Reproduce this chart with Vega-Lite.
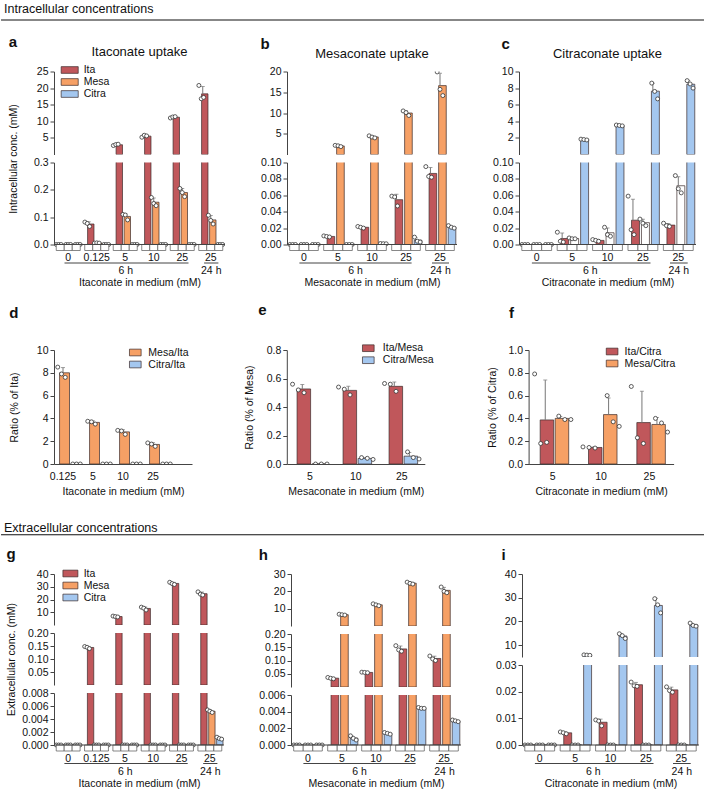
{
"$schema": "https://vega.github.io/schema/vega-lite/v6.json",
"padding": {"left": 0, "top": 2, "right": 0, "bottom": 0},
"background": "white",
"config": {
  "font": "Liberation Sans",
  "view": {"stroke": null},
  "axis": {"labelFontSize": 10.5, "titleFontSize": 10.5, "titleFontWeight": "normal", "labelColor": "#111", "titleColor": "#111", "domainColor": "#444", "tickColor": "#444", "tickSize": 4, "grid": false, "labelPadding": 2, "labelFont": "Liberation Sans", "titleFont": "Liberation Sans"},
  "title": {"font": "Liberation Sans", "color": "#111"},
  "legend": {"labelFont": "Liberation Sans", "labelFontSize": 10.5, "labelColor": "#111"},
  "bar": {"stroke": "#3b2b2b", "strokeWidth": 0.7},
  "rule": {"color": "#777", "strokeWidth": 1},
  "tick": {"color": "#777", "thickness": 1},
  "point": {"shape": "circle", "filled": true, "fill": "white", "stroke": "#333", "strokeWidth": 0.8, "size": 16, "opacity": 1}
},
"datasets": {
  "A": [
    {"g":"0","s":"Ita","r":[0,0,0]},{"g":"0","s":"Mesa","r":[0,0,0]},{"g":"0","s":"Citra","r":[0,0,0]},
    {"g":"0.125","s":"Ita","r":[0.082,0.077,0.066]},{"g":"0.125","s":"Mesa","r":[0.005,0.006,0.005]},{"g":"0.125","s":"Citra","r":[0,0,0]},
    {"g":"5","s":"Ita","r":[2.7,3.0,3.1]},{"g":"5","s":"Mesa","r":[0.11,0.108,0.09]},{"g":"5","s":"Citra","r":[0,0,0]},
    {"g":"10","s":"Ita","r":[5.2,5.8,5.6]},{"g":"10","s":"Mesa","r":[0.172,0.15,0.142]},{"g":"10","s":"Citra","r":[0,0,0]},
    {"g":"25","s":"Ita","r":[11.0,11.3,11.4]},{"g":"25","s":"Mesa","r":[0.205,0.19,0.175]},{"g":"25","s":"Citra","r":[0,0,0]},
    {"g":"25*","s":"Ita","r":[20.8,16.8,17.2]},{"g":"25*","s":"Mesa","r":[0.107,0.088,0.075]},{"g":"25*","s":"Citra","r":[0,0,0]}
  ],
  "B": [
    {"g":"0","s":"Ita","r":[0,0,0]},{"g":"0","s":"Mesa","r":[0,0,0]},{"g":"0","s":"Citra","r":[0,0,0]},
    {"g":"5","s":"Ita","r":[0.0105,0.0098,0.0092]},{"g":"5","s":"Mesa","r":[2.2,2.1,1.9]},{"g":"5","s":"Citra","r":[0,0,0]},
    {"g":"10","s":"Ita","r":[0.022,0.021,0.02]},{"g":"10","s":"Mesa","r":[4.5,4.2,4.0]},{"g":"10","s":"Citra","r":[0.0012,0.001,0.0009]},
    {"g":"25","s":"Ita","r":[0.059,0.058,0.047]},{"g":"25","s":"Mesa","r":[10.5,10.1,9.4]},{"g":"25","s":"Citra","r":[0.009,0.004,0.003]},
    {"g":"25*","s":"Ita","r":[0.095,0.083,0.082]},{"g":"25*","s":"Mesa","r":[19.9,15.7,14.2]},{"g":"25*","s":"Citra","r":[0.023,0.021,0.02]}
  ],
  "C": [
    {"g":"0","s":"Ita","r":[0,0,0]},{"g":"0","s":"Mesa","r":[0,0,0]},{"g":"0","s":"Citra","r":[0,0,0]},
    {"g":"5","s":"Ita","r":[0.015,0.004,0.003]},{"g":"5","s":"Mesa","r":[0.008,0.007,0.007]},{"g":"5","s":"Citra","r":[1.85,1.8,1.75]},
    {"g":"10","s":"Ita","r":[0.006,0.005,0.004]},{"g":"10","s":"Mesa","r":[0.021,0.012,0.01]},{"g":"10","s":"Citra","r":[3.55,3.5,3.45]},
    {"g":"25","s":"Ita","r":[0.059,0.018,0.012]},{"g":"25","s":"Mesa","r":[0.031,0.026,0.023]},{"g":"25","s":"Citra","r":[8.6,7.6,6.7]},
    {"g":"25*","s":"Ita","r":[0.026,0.023,0.022]},{"g":"25*","s":"Mesa","r":[0.084,0.068,0.063]},{"g":"25*","s":"Citra","r":[8.9,8.5,8.0]}
  ],
  "D": [
    {"g":"0.125","s":"Mesa/Ita","r":[8.5,7.9,7.6]},{"g":"0.125","s":"Citra/Ita","r":[0,0,0]},
    {"g":"5","s":"Mesa/Ita","r":[3.75,3.7,3.5]},{"g":"5","s":"Citra/Ita","r":[0,0,0]},
    {"g":"10","s":"Mesa/Ita","r":[2.95,2.9,2.6]},{"g":"10","s":"Citra/Ita","r":[0,0,0]},
    {"g":"25","s":"Mesa/Ita","r":[1.85,1.75,1.55]},{"g":"25","s":"Citra/Ita","r":[0,0,0]}
  ],
  "E": [
    {"g":"5","s":"Ita/Mesa","r":[0.56,0.52,0.5]},{"g":"5","s":"Citra/Mesa","r":[0,0,0]},
    {"g":"10","s":"Ita/Mesa","r":[0.54,0.525,0.485]},{"g":"10","s":"Citra/Mesa","r":[0.045,0.04,0.032]},
    {"g":"25","s":"Ita/Mesa","r":[0.565,0.56,0.51]},{"g":"25","s":"Citra/Mesa","r":[0.085,0.045,0.035]}
  ],
  "F": [
    {"g":"5","s":"Ita/Citra","r":[0.79,0.18,0.19]},{"g":"5","s":"Mesa/Citra","r":[0.42,0.39,0.39]},
    {"g":"10","s":"Ita/Citra","r":[0.15,0.145,0.14]},{"g":"10","s":"Mesa/Citra","r":[0.6,0.37,0.33]},
    {"g":"25","s":"Ita/Citra","r":[0.68,0.23,0.18]},{"g":"25","s":"Mesa/Citra","r":[0.4,0.36,0.28]}
  ],
  "G": [
    {"g":"0","s":"Ita","r":[0,0,0]},{"g":"0","s":"Mesa","r":[0,0,0]},{"g":"0","s":"Citra","r":[0,0,0]},
    {"g":"0.125","s":"Ita","r":[0.148,0.145,0.14]},{"g":"0.125","s":"Mesa","r":[0,0,0]},{"g":"0.125","s":"Citra","r":[0,0,0]},
    {"g":"5","s":"Ita","r":[7.0,6.6,6.3]},{"g":"5","s":"Mesa","r":[0,0,0]},{"g":"5","s":"Citra","r":[0,0,0]},
    {"g":"10","s":"Ita","r":[14.0,13.2,11.8]},{"g":"10","s":"Mesa","r":[0,0,0]},{"g":"10","s":"Citra","r":[0,0,0]},
    {"g":"25","s":"Ita","r":[33.5,32.5,31.8]},{"g":"25","s":"Mesa","r":[0,0,0]},{"g":"25","s":"Citra","r":[0,0,0]},
    {"g":"25*","s":"Ita","r":[26.0,24.2,23.5]},{"g":"25*","s":"Mesa","r":[0.0054,0.0052,0.005]},{"g":"25*","s":"Citra","r":[0.0012,0.001,0.0009]}
  ],
  "H": [
    {"g":"0","s":"Ita","r":[0,0,0]},{"g":"0","s":"Mesa","r":[0,0,0]},{"g":"0","s":"Citra","r":[0,0,0]},
    {"g":"5","s":"Ita","r":[0.036,0.033,0.031]},{"g":"5","s":"Mesa","r":[6.8,6.5,6.3]},{"g":"5","s":"Citra","r":[0.0011,0.0008,0.0006]},
    {"g":"10","s":"Ita","r":[0.056,0.055,0.054]},{"g":"10","s":"Mesa","r":[12.8,12.2,11.7]},{"g":"10","s":"Citra","r":[0.0015,0.0014,0.0013]},
    {"g":"25","s":"Ita","r":[0.156,0.14,0.135]},{"g":"25","s":"Mesa","r":[25.3,24.6,24.2]},{"g":"25","s":"Citra","r":[0.0045,0.0044,0.0044]},
    {"g":"25*","s":"Ita","r":[0.117,0.106,0.1]},{"g":"25*","s":"Mesa","r":[22.5,20.0,19.2]},{"g":"25*","s":"Citra","r":[0.003,0.0029,0.0028]}
  ],
  "I": [
    {"g":"0","s":"Ita","r":[0,0,0]},{"g":"0","s":"Mesa","r":[0,0,0]},{"g":"0","s":"Citra","r":[0,0,0]},
    {"g":"5","s":"Ita","r":[0.0049,0.0046,0.0042]},{"g":"5","s":"Mesa","r":[0,0,0]},{"g":"5","s":"Citra","r":[5.9,5.8,5.7]},
    {"g":"10","s":"Ita","r":[0.0094,0.009,0.0072]},{"g":"10","s":"Mesa","r":[0,0,0]},{"g":"10","s":"Citra","r":[14.8,14.0,12.8]},
    {"g":"25","s":"Ita","r":[0.0236,0.0222,0.022]},{"g":"25","s":"Mesa","r":[0,0,0]},{"g":"25","s":"Citra","r":[29.6,27.0,23.6]},
    {"g":"25*","s":"Ita","r":[0.0218,0.0204,0.0198]},{"g":"25*","s":"Mesa","r":[0,0,0]},{"g":"25*","s":"Citra","r":[19.3,18.3,18.0]}
  ]
},
"spacing": 24.75,
"align": "none",
"resolve": {"scale": {"color": "independent", "x": "independent", "y": "independent", "xOffset": "independent"}, "legend": {"color": "independent"}, "axis": {"x": "independent", "y": "independent"}},
"vconcat": [
{
 "spacing": 13.5,
 "align": "none",
 "resolve": {"scale": {"color": "independent", "x": "independent", "y": "independent", "xOffset": "independent"}, "legend": {"color": "independent"}, "axis": {"x": "independent", "y": "independent"}},
 "vconcat": [
  {"data": {"values": [{"t": "Intracellular concentrations"}]},
   "title": {"text": "Intracellular concentrations", "anchor": "start", "frame": "group", "fontSize": 12.5, "fontWeight": "normal", "offset": 4, "dx": -50},
   "width": 650, "height": 1,
   "mark": {"type": "rule", "color": "#111", "strokeWidth": 1.2},
   "encoding": {"x": {"datum": -0.0815, "type": "quantitative", "scale": {"domain": [0, 1], "nice": false, "zero": false}, "axis": null}, "x2": {"datum": 1},
     "y": {"datum": 0, "type": "quantitative", "scale": {"domain": [0, 1]}, "axis": null}}},
  {
   "spacing": 14.5,
   "align": "none",
   "resolve": {"scale": {"color": "independent", "x": "independent", "y": "independent", "xOffset": "independent"}, "legend": {"color": "independent"}, "axis": {"x": "independent", "y": "independent"}},
   "vconcat": [
    {
     "spacing": 34,
     "resolve": {"scale": {"color": "independent", "x": "independent", "y": "independent", "xOffset": "independent"}, "legend": {"color": "independent"}, "axis": {"x": "independent", "y": "independent"}},
     "hconcat": [
      {
       "title": {"text": "a", "anchor": "start", "frame": "bounds", "fontSize": 15, "fontWeight": "bold", "offset": -4},
       "spacing": 8, "bounds": "flush",
       "resolve": {"scale": {"color": "independent", "x": "independent", "y": "independent", "xOffset": "independent"}, "legend": {"color": "independent"}, "axis": {"x": "independent", "y": "independent"}},
       "vconcat": [
        {"width": 171, "height": 83, "data": {"name": "A"},
         "title": {"text": "Itaconate uptake", "fontSize": 13, "fontWeight": "normal", "offset": 5.5},
         "encoding": {"x": {"field": "g", "type": "nominal", "scale": {"domain": ["0","0.125","5","10","25","25*"], "paddingInner": 0, "paddingOuter": 0}, "axis": null}},
         "resolve": {"scale": {"xOffset": "independent"}},
         "layer": [
          {"transform": [{"flatten":["r"],"as":["v"]},{"aggregate":[{"op":"mean","field":"v","as":"m"}],"groupby":["g","s"]},{"filter":"datum.m > 0.3"}],
           "mark": {"type": "bar", "clip": true, "width": {"band": 0.8}},
           "encoding": {"xOffset": {"field":"s","type":"nominal","scale":{"domain":["Ita","Mesa","Citra"],"paddingInner":0,"paddingOuter":0.28}},
            "y": {"field": "m", "type": "quantitative", "scale": {"domain": [0, 25], "nice": false, "zero": false}, "axis": {"values": [5,10,15,20,25], "format": "d", "title": null}},
            "color": {"field": "s", "type": "nominal", "scale": {"domain": ["Ita","Mesa","Citra"], "range": ["#c0575b","#f6a065","#a4c7ef"]},
              "legend": {"title": null, "orient": "none", "legendX": 9.7, "legendY": -7.5, "symbolType": "M-1.55,-0.61H1.55V0.61H-1.55Z", "symbolSize": 121, "symbolStrokeColor": "#3b2b2b", "symbolStrokeWidth": 0.7, "labelOffset": 8, "rowPadding": 0, "padding": 0}}}},
          {"transform": [{"flatten":["r"],"as":["v"]},{"aggregate":[{"op":"mean","field":"v","as":"m"},{"op":"stdev","field":"v","as":"sd"}],"groupby":["g","s"]},{"filter":"datum.m > 0.3"},{"calculate":"datum.m + (isValid(datum.sd) ? datum.sd : 0)","as":"hi"}],
           "mark": {"type": "rule", "clip": true},
           "encoding": {"xOffset": {"field":"s","type":"nominal","scale":{"domain":["Ita","Mesa","Citra"],"paddingInner":0,"paddingOuter":0.28}},
            "y": {"field": "m", "type": "quantitative", "scale": {"domain": [0, 25], "nice": false, "zero": false}, "axis": {"values": [5,10,15,20,25], "format": "d", "title": null}},
            "y2": {"field": "hi"}}},
          {"transform": [{"flatten":["r"],"as":["v"]},{"aggregate":[{"op":"mean","field":"v","as":"m"},{"op":"stdev","field":"v","as":"sd"}],"groupby":["g","s"]},{"filter":"datum.m > 0.3"},{"calculate":"datum.m + (isValid(datum.sd) ? datum.sd : 0)","as":"hi"}],
           "mark": {"type": "tick", "clip": true, "size": 4},
           "encoding": {"xOffset": {"field":"s","type":"nominal","scale":{"domain":["Ita","Mesa","Citra"],"paddingInner":0,"paddingOuter":0.28}},
            "y": {"field": "hi", "type": "quantitative", "scale": {"domain": [0, 25], "nice": false, "zero": false}, "axis": {"values": [5,10,15,20,25], "format": "d", "title": null}}}},
          {"transform": [{"flatten":["r"],"as":["v"]},{"joinaggregate":[{"op":"mean","field":"v","as":"m"}],"groupby":["g","s"]},{"filter":"datum.m > 0.3"},{"window":[{"op":"row_number","as":"ri"}],"groupby":["g","s"]},{"calculate":"datum.s + datum.ri","as":"k"}],
           "mark": {"type": "point", "clip": true},
           "encoding": {"xOffset": {"field":"k","type":"nominal","scale":{"domain":["Ita1","Ita2","Ita3","gap1","Mesa1","Mesa2","Mesa3","gap2","Citra1","Citra2","Citra3"],"paddingInner":0,"paddingOuter":1.62}},
            "y": {"field": "v", "type": "quantitative", "scale": {"domain": [0, 25], "nice": false, "zero": false}, "axis": {"values": [5,10,15,20,25], "format": "d", "title": null}}}}
         ]},
        {"width": 171, "height": 88, "data": {"name": "A"},
         "resolve": {"scale": {"x": "independent"}, "axis": {"x": "independent"}},
         "layer": [
          {"encoding": {"x": {"field": "g", "type": "nominal", "scale": {"domain": ["0","0.125","5","10","25","25*"], "paddingInner": 0, "paddingOuter": 0}, "axis": {"orient": "bottom", "title": null, "ticks": false, "domain": false, "labelPadding": 2, "labelAngle": 0, "labelExpr": "replace(datum.label,'*','')"}}},
           "resolve": {"scale": {"xOffset": "independent"}},
           "layer": [
            {"transform": [{"flatten":["r"],"as":["v"]},{"aggregate":[{"op":"mean","field":"v","as":"m"}],"groupby":["g","s"]}],
             "mark": {"type": "bar", "clip": true, "width": {"band": 0.8}},
             "encoding": {"xOffset": {"field":"s","type":"nominal","scale":{"domain":["Ita","Mesa","Citra"],"paddingInner":0,"paddingOuter":0.28}},
              "y": {"field": "m", "type": "quantitative", "scale": {"domain": [-0.022, 0.3], "nice": false, "zero": false}, "axis": {"values": [0,0.1,0.2,0.3], "format": ".1f", "title": "Intracellular conc. (mM)", "titleY": -4, "titlePadding": 14.7, "domainDash": [0,6,1000]}},
              "color": {"field": "s", "type": "nominal", "scale": {"domain": ["Ita","Mesa","Citra"], "range": ["#c0575b","#f6a065","#a4c7ef"]}, "legend": null}}},
            {"transform": [{"flatten":["r"],"as":["v"]},{"aggregate":[{"op":"mean","field":"v","as":"m"},{"op":"stdev","field":"v","as":"sd"}],"groupby":["g","s"]},{"calculate":"datum.m + (isValid(datum.sd) ? datum.sd : 0)","as":"hi"}],
             "mark": {"type": "rule", "clip": true},
             "encoding": {"xOffset": {"field":"s","type":"nominal","scale":{"domain":["Ita","Mesa","Citra"],"paddingInner":0,"paddingOuter":0.28}},
              "y": {"field": "m", "type": "quantitative", "scale": {"domain": [-0.022, 0.3], "nice": false, "zero": false}, "axis": {"values": [0,0.1,0.2,0.3], "format": ".1f", "title": "Intracellular conc. (mM)", "titleY": -4, "titlePadding": 14.7, "domainDash": [0,6,1000]}},
              "y2": {"field": "hi"}}},
            {"transform": [{"flatten":["r"],"as":["v"]},{"aggregate":[{"op":"mean","field":"v","as":"m"},{"op":"stdev","field":"v","as":"sd"}],"groupby":["g","s"]},{"calculate":"datum.m + (isValid(datum.sd) ? datum.sd : 0)","as":"hi"}],
             "mark": {"type": "tick", "clip": true, "size": 4},
             "encoding": {"xOffset": {"field":"s","type":"nominal","scale":{"domain":["Ita","Mesa","Citra"],"paddingInner":0,"paddingOuter":0.28}},
              "y": {"field": "hi", "type": "quantitative", "scale": {"domain": [-0.022, 0.3], "nice": false, "zero": false}, "axis": {"values": [0,0.1,0.2,0.3], "format": ".1f", "title": "Intracellular conc. (mM)", "titleY": -4, "titlePadding": 14.7, "domainDash": [0,6,1000]}}}},
            {"transform": [{"flatten":["r"],"as":["v"]},{"window":[{"op":"row_number","as":"ri"}],"groupby":["g","s"]},{"calculate":"datum.s + datum.ri","as":"k"}],
             "mark": {"type": "point", "clip": true},
             "encoding": {"xOffset": {"field":"k","type":"nominal","scale":{"domain":["Ita1","Ita2","Ita3","gap1","Mesa1","Mesa2","Mesa3","gap2","Citra1","Citra2","Citra3"],"paddingInner":0,"paddingOuter":1.62}},
              "y": {"field": "v", "type": "quantitative", "scale": {"domain": [-0.022, 0.3], "nice": false, "zero": false}, "axis": {"values": [0,0.1,0.2,0.3], "format": ".1f", "title": "Intracellular conc. (mM)", "titleY": -4, "titlePadding": 14.7, "domainDash": [0,6,1000]}}}},
            {"mark": {"type": "rect", "fill": "white", "stroke": "#555", "strokeWidth": 0.7},
             "encoding": {"xOffset": {"field":"s","type":"nominal","scale":{"domain":["Ita","Mesa","Citra"],"paddingInner":0,"paddingOuter":0.28}},
              "y": {"datum": 0, "type": "quantitative", "scale": {"domain": [-0.022, 0.3], "nice": false, "zero": false}, "axis": {"values": [0,0.1,0.2,0.3], "format": ".1f", "title": "Intracellular conc. (mM)", "titleY": -4, "titlePadding": 14.7, "domainDash": [0,6,1000]}},
              "y2": {"datum": -0.022}}}
           ]},
          {"transform": [{"aggregate":[{"op":"count","as":"n"}]}],
           "mark": {"type": "rule", "color": "#444", "strokeWidth": 1},
           "encoding": {"y": {"datum": 0, "type": "quantitative", "scale": {"domain": [-0.022, 0.3], "nice": false, "zero": false}, "axis": {"values": [0,0.1,0.2,0.3], "format": ".1f", "title": "Intracellular conc. (mM)", "titleY": -4, "titlePadding": 14.7, "domainDash": [0,6,1000]}}}},
          {"transform": [{"aggregate":[{"op":"count","as":"n"}]}],
           "mark": {"type": "rule", "opacity": 0},
           "encoding": {"x": {"datum": 0, "type": "quantitative", "scale": {"domain": [0, 6], "nice": false, "zero": false},
             "axis": {"orient": "bottom", "offset": 12, "values": [2.5, 5.5], "labelExpr": "datum.value < 5 ? '6 h' : '24 h'", "ticks": false, "grid": false, "labelPadding": 3, "labelFlush": false, "labelOverlap": false, "domainDash": [0,10,124,15.6,14.3,60], "title": "Itaconate in medium (mM)", "titlePadding": 1.5}}}}
         ]}
       ]
      },
      {
       "title": {"text": "b", "anchor": "start", "frame": "bounds", "fontSize": 15, "fontWeight": "bold", "offset": -4},
       "spacing": 8, "bounds": "flush",
       "resolve": {"scale": {"color": "independent", "x": "independent", "y": "independent", "xOffset": "independent"}, "legend": {"color": "independent"}, "axis": {"x": "independent", "y": "independent"}},
       "vconcat": [
        {"width": 170, "height": 83, "data": {"name": "B"},
         "title": {"text": "Mesaconate uptake", "fontSize": 13, "fontWeight": "normal", "offset": 5.5},
         "encoding": {"x": {"field": "g", "type": "nominal", "scale": {"domain": ["0","5","10","25","25*"], "paddingInner": 0, "paddingOuter": 0}, "axis": null}},
         "resolve": {"scale": {"xOffset": "independent"}},
         "layer": [
          {"transform": [{"flatten":["r"],"as":["v"]},{"aggregate":[{"op":"mean","field":"v","as":"m"}],"groupby":["g","s"]},{"filter":"datum.m > 0.1"}],
           "mark": {"type": "bar", "clip": true, "width": {"band": 0.8}},
           "encoding": {"xOffset": {"field":"s","type":"nominal","scale":{"domain":["Ita","Mesa","Citra"],"paddingInner":0,"paddingOuter":0.28}},
            "y": {"field": "m", "type": "quantitative", "scale": {"domain": [0, 20], "nice": false, "zero": false}, "axis": {"values": [5,10,15,20], "format": "d", "title": null}},
            "color": {"field": "s", "type": "nominal", "scale": {"domain": ["Ita","Mesa","Citra"], "range": ["#c0575b","#f6a065","#a4c7ef"]}, "legend": null}}},
          {"transform": [{"flatten":["r"],"as":["v"]},{"aggregate":[{"op":"mean","field":"v","as":"m"},{"op":"stdev","field":"v","as":"sd"}],"groupby":["g","s"]},{"filter":"datum.m > 0.1"},{"calculate":"datum.m + (isValid(datum.sd) ? datum.sd : 0)","as":"hi"}],
           "mark": {"type": "rule", "clip": true},
           "encoding": {"xOffset": {"field":"s","type":"nominal","scale":{"domain":["Ita","Mesa","Citra"],"paddingInner":0,"paddingOuter":0.28}},
            "y": {"field": "m", "type": "quantitative", "scale": {"domain": [0, 20], "nice": false, "zero": false}, "axis": {"values": [5,10,15,20], "format": "d", "title": null}},
            "y2": {"field": "hi"}}},
          {"transform": [{"flatten":["r"],"as":["v"]},{"aggregate":[{"op":"mean","field":"v","as":"m"},{"op":"stdev","field":"v","as":"sd"}],"groupby":["g","s"]},{"filter":"datum.m > 0.1"},{"calculate":"datum.m + (isValid(datum.sd) ? datum.sd : 0)","as":"hi"}],
           "mark": {"type": "tick", "clip": true, "size": 4},
           "encoding": {"xOffset": {"field":"s","type":"nominal","scale":{"domain":["Ita","Mesa","Citra"],"paddingInner":0,"paddingOuter":0.28}},
            "y": {"field": "hi", "type": "quantitative", "scale": {"domain": [0, 20], "nice": false, "zero": false}, "axis": {"values": [5,10,15,20], "format": "d", "title": null}}}},
          {"transform": [{"flatten":["r"],"as":["v"]},{"joinaggregate":[{"op":"mean","field":"v","as":"m"}],"groupby":["g","s"]},{"filter":"datum.m > 0.1"},{"window":[{"op":"row_number","as":"ri"}],"groupby":["g","s"]},{"calculate":"datum.s + datum.ri","as":"k"}],
           "mark": {"type": "point", "clip": true},
           "encoding": {"xOffset": {"field":"k","type":"nominal","scale":{"domain":["Ita1","Ita2","Ita3","gap1","Mesa1","Mesa2","Mesa3","gap2","Citra1","Citra2","Citra3"],"paddingInner":0,"paddingOuter":1.62}},
            "y": {"field": "v", "type": "quantitative", "scale": {"domain": [0, 20], "nice": false, "zero": false}, "axis": {"values": [5,10,15,20], "format": "d", "title": null}}}}
         ]},
        {"width": 170, "height": 88, "data": {"name": "B"},
         "resolve": {"scale": {"x": "independent"}, "axis": {"x": "independent"}},
         "layer": [
          {"encoding": {"x": {"field": "g", "type": "nominal", "scale": {"domain": ["0","5","10","25","25*"], "paddingInner": 0, "paddingOuter": 0}, "axis": {"orient": "bottom", "title": null, "ticks": false, "domain": false, "labelPadding": 2, "labelAngle": 0, "labelExpr": "replace(datum.label,'*','')"}}},
           "resolve": {"scale": {"xOffset": "independent"}},
           "layer": [
            {"transform": [{"flatten":["r"],"as":["v"]},{"aggregate":[{"op":"mean","field":"v","as":"m"}],"groupby":["g","s"]}],
             "mark": {"type": "bar", "clip": true, "width": {"band": 0.8}},
             "encoding": {"xOffset": {"field":"s","type":"nominal","scale":{"domain":["Ita","Mesa","Citra"],"paddingInner":0,"paddingOuter":0.28}},
              "y": {"field": "m", "type": "quantitative", "scale": {"domain": [-0.0073, 0.1], "nice": false, "zero": false}, "axis": {"values": [0,0.02,0.04,0.06,0.08,0.1], "format": ".2f", "title": null, "domainDash": [0,6,1000]}},
              "color": {"field": "s", "type": "nominal", "scale": {"domain": ["Ita","Mesa","Citra"], "range": ["#c0575b","#f6a065","#a4c7ef"]}, "legend": null}}},
            {"transform": [{"flatten":["r"],"as":["v"]},{"aggregate":[{"op":"mean","field":"v","as":"m"},{"op":"stdev","field":"v","as":"sd"}],"groupby":["g","s"]},{"calculate":"datum.m + (isValid(datum.sd) ? datum.sd : 0)","as":"hi"}],
             "mark": {"type": "rule", "clip": true},
             "encoding": {"xOffset": {"field":"s","type":"nominal","scale":{"domain":["Ita","Mesa","Citra"],"paddingInner":0,"paddingOuter":0.28}},
              "y": {"field": "m", "type": "quantitative", "scale": {"domain": [-0.0073, 0.1], "nice": false, "zero": false}, "axis": {"values": [0,0.02,0.04,0.06,0.08,0.1], "format": ".2f", "title": null, "domainDash": [0,6,1000]}},
              "y2": {"field": "hi"}}},
            {"transform": [{"flatten":["r"],"as":["v"]},{"aggregate":[{"op":"mean","field":"v","as":"m"},{"op":"stdev","field":"v","as":"sd"}],"groupby":["g","s"]},{"calculate":"datum.m + (isValid(datum.sd) ? datum.sd : 0)","as":"hi"}],
             "mark": {"type": "tick", "clip": true, "size": 4},
             "encoding": {"xOffset": {"field":"s","type":"nominal","scale":{"domain":["Ita","Mesa","Citra"],"paddingInner":0,"paddingOuter":0.28}},
              "y": {"field": "hi", "type": "quantitative", "scale": {"domain": [-0.0073, 0.1], "nice": false, "zero": false}, "axis": {"values": [0,0.02,0.04,0.06,0.08,0.1], "format": ".2f", "title": null, "domainDash": [0,6,1000]}}}},
            {"transform": [{"flatten":["r"],"as":["v"]},{"window":[{"op":"row_number","as":"ri"}],"groupby":["g","s"]},{"calculate":"datum.s + datum.ri","as":"k"}],
             "mark": {"type": "point", "clip": true},
             "encoding": {"xOffset": {"field":"k","type":"nominal","scale":{"domain":["Ita1","Ita2","Ita3","gap1","Mesa1","Mesa2","Mesa3","gap2","Citra1","Citra2","Citra3"],"paddingInner":0,"paddingOuter":1.62}},
              "y": {"field": "v", "type": "quantitative", "scale": {"domain": [-0.0073, 0.1], "nice": false, "zero": false}, "axis": {"values": [0,0.02,0.04,0.06,0.08,0.1], "format": ".2f", "title": null, "domainDash": [0,6,1000]}}}},
            {"mark": {"type": "rect", "fill": "white", "stroke": "#555", "strokeWidth": 0.7},
             "encoding": {"xOffset": {"field":"s","type":"nominal","scale":{"domain":["Ita","Mesa","Citra"],"paddingInner":0,"paddingOuter":0.28}},
              "y": {"datum": 0, "type": "quantitative", "scale": {"domain": [-0.0073, 0.1], "nice": false, "zero": false}, "axis": {"values": [0,0.02,0.04,0.06,0.08,0.1], "format": ".2f", "title": null, "domainDash": [0,6,1000]}},
              "y2": {"datum": -0.0073}}}
           ]},
          {"transform": [{"aggregate":[{"op":"count","as":"n"}]}],
           "mark": {"type": "rule", "color": "#444", "strokeWidth": 1},
           "encoding": {"y": {"datum": 0, "type": "quantitative", "scale": {"domain": [-0.0073, 0.1], "nice": false, "zero": false}, "axis": {"values": [0,0.02,0.04,0.06,0.08,0.1], "format": ".2f", "title": null, "domainDash": [0,6,1000]}}}},
          {"transform": [{"aggregate":[{"op":"count","as":"n"}]}],
           "mark": {"type": "rule", "opacity": 0},
           "encoding": {"x": {"datum": 0, "type": "quantitative", "scale": {"domain": [0, 5], "nice": false, "zero": false},
             "axis": {"orient": "bottom", "offset": 12, "values": [2, 4.5], "labelExpr": "datum.value < 4 ? '6 h' : '24 h'", "ticks": false, "grid": false, "labelPadding": 3, "labelFlush": false, "labelOverlap": false, "domainDash": [0,11.9,112.2,20.4,17,60], "title": "Mesaconate in medium (mM)", "titlePadding": 1.5}}}}
         ]}
       ]
      },
      {
       "title": {"text": "c", "anchor": "start", "frame": "bounds", "fontSize": 15, "fontWeight": "bold", "offset": -4, "dx": 9},
       "spacing": 8, "bounds": "flush",
       "resolve": {"scale": {"color": "independent", "x": "independent", "y": "independent", "xOffset": "independent"}, "legend": {"color": "independent"}, "axis": {"x": "independent", "y": "independent"}},
       "vconcat": [
        {"width": 177, "height": 83, "data": {"name": "C"},
         "title": {"text": "Citraconate uptake", "fontSize": 13, "fontWeight": "normal", "offset": 5.5},
         "encoding": {"x": {"field": "g", "type": "nominal", "scale": {"domain": ["0","5","10","25","25*"], "paddingInner": 0, "paddingOuter": 0}, "axis": null}},
         "resolve": {"scale": {"xOffset": "independent"}},
         "layer": [
          {"transform": [{"flatten":["r"],"as":["v"]},{"aggregate":[{"op":"mean","field":"v","as":"m"}],"groupby":["g","s"]},{"filter":"datum.m > 0.1"}],
           "mark": {"type": "bar", "clip": true, "width": {"band": 0.8}},
           "encoding": {"xOffset": {"field":"s","type":"nominal","scale":{"domain":["Ita","Mesa","Citra"],"paddingInner":0,"paddingOuter":0.28}},
            "y": {"field": "m", "type": "quantitative", "scale": {"domain": [0, 10], "nice": false, "zero": false}, "axis": {"values": [2,4,6,8,10], "format": "d", "title": null}},
            "color": {"field": "s", "type": "nominal", "scale": {"domain": ["Ita","Mesa","Citra"], "range": ["#c0575b","#ffffff","#a4c7ef"]}, "legend": null}}},
          {"transform": [{"flatten":["r"],"as":["v"]},{"aggregate":[{"op":"mean","field":"v","as":"m"},{"op":"stdev","field":"v","as":"sd"}],"groupby":["g","s"]},{"filter":"datum.m > 0.1"},{"calculate":"datum.m + (isValid(datum.sd) ? datum.sd : 0)","as":"hi"}],
           "mark": {"type": "rule", "clip": true},
           "encoding": {"xOffset": {"field":"s","type":"nominal","scale":{"domain":["Ita","Mesa","Citra"],"paddingInner":0,"paddingOuter":0.28}},
            "y": {"field": "m", "type": "quantitative", "scale": {"domain": [0, 10], "nice": false, "zero": false}, "axis": {"values": [2,4,6,8,10], "format": "d", "title": null}},
            "y2": {"field": "hi"}}},
          {"transform": [{"flatten":["r"],"as":["v"]},{"aggregate":[{"op":"mean","field":"v","as":"m"},{"op":"stdev","field":"v","as":"sd"}],"groupby":["g","s"]},{"filter":"datum.m > 0.1"},{"calculate":"datum.m + (isValid(datum.sd) ? datum.sd : 0)","as":"hi"}],
           "mark": {"type": "tick", "clip": true, "size": 4},
           "encoding": {"xOffset": {"field":"s","type":"nominal","scale":{"domain":["Ita","Mesa","Citra"],"paddingInner":0,"paddingOuter":0.28}},
            "y": {"field": "hi", "type": "quantitative", "scale": {"domain": [0, 10], "nice": false, "zero": false}, "axis": {"values": [2,4,6,8,10], "format": "d", "title": null}}}},
          {"transform": [{"flatten":["r"],"as":["v"]},{"joinaggregate":[{"op":"mean","field":"v","as":"m"}],"groupby":["g","s"]},{"filter":"datum.m > 0.1"},{"window":[{"op":"row_number","as":"ri"}],"groupby":["g","s"]},{"calculate":"datum.s + datum.ri","as":"k"}],
           "mark": {"type": "point", "clip": true},
           "encoding": {"xOffset": {"field":"k","type":"nominal","scale":{"domain":["Ita1","Ita2","Ita3","gap1","Mesa1","Mesa2","Mesa3","gap2","Citra1","Citra2","Citra3"],"paddingInner":0,"paddingOuter":1.62}},
            "y": {"field": "v", "type": "quantitative", "scale": {"domain": [0, 10], "nice": false, "zero": false}, "axis": {"values": [2,4,6,8,10], "format": "d", "title": null}}}}
         ]},
        {"width": 177, "height": 88, "data": {"name": "C"},
         "resolve": {"scale": {"x": "independent"}, "axis": {"x": "independent"}},
         "layer": [
          {"encoding": {"x": {"field": "g", "type": "nominal", "scale": {"domain": ["0","5","10","25","25*"], "paddingInner": 0, "paddingOuter": 0}, "axis": {"orient": "bottom", "title": null, "ticks": false, "domain": false, "labelPadding": 2, "labelAngle": 0, "labelExpr": "replace(datum.label,'*','')"}}},
           "resolve": {"scale": {"xOffset": "independent"}},
           "layer": [
            {"transform": [{"flatten":["r"],"as":["v"]},{"aggregate":[{"op":"mean","field":"v","as":"m"}],"groupby":["g","s"]}],
             "mark": {"type": "bar", "clip": true, "width": {"band": 0.8}},
             "encoding": {"xOffset": {"field":"s","type":"nominal","scale":{"domain":["Ita","Mesa","Citra"],"paddingInner":0,"paddingOuter":0.28}},
              "y": {"field": "m", "type": "quantitative", "scale": {"domain": [-0.0073, 0.1], "nice": false, "zero": false}, "axis": {"values": [0,0.02,0.04,0.06,0.08,0.1], "format": ".2f", "title": null, "domainDash": [0,6,1000]}},
              "color": {"field": "s", "type": "nominal", "scale": {"domain": ["Ita","Mesa","Citra"], "range": ["#c0575b","#ffffff","#a4c7ef"]}, "legend": null}}},
            {"transform": [{"flatten":["r"],"as":["v"]},{"aggregate":[{"op":"mean","field":"v","as":"m"},{"op":"stdev","field":"v","as":"sd"}],"groupby":["g","s"]},{"calculate":"datum.m + (isValid(datum.sd) ? datum.sd : 0)","as":"hi"}],
             "mark": {"type": "rule", "clip": true},
             "encoding": {"xOffset": {"field":"s","type":"nominal","scale":{"domain":["Ita","Mesa","Citra"],"paddingInner":0,"paddingOuter":0.28}},
              "y": {"field": "m", "type": "quantitative", "scale": {"domain": [-0.0073, 0.1], "nice": false, "zero": false}, "axis": {"values": [0,0.02,0.04,0.06,0.08,0.1], "format": ".2f", "title": null, "domainDash": [0,6,1000]}},
              "y2": {"field": "hi"}}},
            {"transform": [{"flatten":["r"],"as":["v"]},{"aggregate":[{"op":"mean","field":"v","as":"m"},{"op":"stdev","field":"v","as":"sd"}],"groupby":["g","s"]},{"calculate":"datum.m + (isValid(datum.sd) ? datum.sd : 0)","as":"hi"}],
             "mark": {"type": "tick", "clip": true, "size": 4},
             "encoding": {"xOffset": {"field":"s","type":"nominal","scale":{"domain":["Ita","Mesa","Citra"],"paddingInner":0,"paddingOuter":0.28}},
              "y": {"field": "hi", "type": "quantitative", "scale": {"domain": [-0.0073, 0.1], "nice": false, "zero": false}, "axis": {"values": [0,0.02,0.04,0.06,0.08,0.1], "format": ".2f", "title": null, "domainDash": [0,6,1000]}}}},
            {"transform": [{"flatten":["r"],"as":["v"]},{"window":[{"op":"row_number","as":"ri"}],"groupby":["g","s"]},{"calculate":"datum.s + datum.ri","as":"k"}],
             "mark": {"type": "point", "clip": true},
             "encoding": {"xOffset": {"field":"k","type":"nominal","scale":{"domain":["Ita1","Ita2","Ita3","gap1","Mesa1","Mesa2","Mesa3","gap2","Citra1","Citra2","Citra3"],"paddingInner":0,"paddingOuter":1.62}},
              "y": {"field": "v", "type": "quantitative", "scale": {"domain": [-0.0073, 0.1], "nice": false, "zero": false}, "axis": {"values": [0,0.02,0.04,0.06,0.08,0.1], "format": ".2f", "title": null, "domainDash": [0,6,1000]}}}},
            {"mark": {"type": "rect", "fill": "white", "stroke": "#555", "strokeWidth": 0.7},
             "encoding": {"xOffset": {"field":"s","type":"nominal","scale":{"domain":["Ita","Mesa","Citra"],"paddingInner":0,"paddingOuter":0.28}},
              "y": {"datum": 0, "type": "quantitative", "scale": {"domain": [-0.0073, 0.1], "nice": false, "zero": false}, "axis": {"values": [0,0.02,0.04,0.06,0.08,0.1], "format": ".2f", "title": null, "domainDash": [0,6,1000]}},
              "y2": {"datum": -0.0073}}}
           ]},
          {"transform": [{"aggregate":[{"op":"count","as":"n"}]}],
           "mark": {"type": "rule", "color": "#444", "strokeWidth": 1},
           "encoding": {"y": {"datum": 0, "type": "quantitative", "scale": {"domain": [-0.0073, 0.1], "nice": false, "zero": false}, "axis": {"values": [0,0.02,0.04,0.06,0.08,0.1], "format": ".2f", "title": null, "domainDash": [0,6,1000]}}}},
          {"transform": [{"aggregate":[{"op":"count","as":"n"}]}],
           "mark": {"type": "rule", "opacity": 0},
           "encoding": {"x": {"datum": 0, "type": "quantitative", "scale": {"domain": [0, 5], "nice": false, "zero": false},
             "axis": {"orient": "bottom", "offset": 12, "values": [2, 4.5], "labelExpr": "datum.value < 4 ? '6 h' : '24 h'", "ticks": false, "grid": false, "labelPadding": 3, "labelFlush": false, "labelOverlap": false, "domainDash": [0,12.4,118.6,19.5,17.7,60], "title": "Citraconate in medium (mM)", "titlePadding": 1.5}}}}
         ]}
       ]
      }
     ]
    },
    {
     "spacing": 51.8,
     "resolve": {"scale": {"color": "independent", "x": "independent", "y": "independent", "xOffset": "independent"}, "legend": {"color": "independent"}, "axis": {"x": "independent", "y": "independent"}},
     "hconcat": [
      {"title": {"text": "d", "anchor": "start", "frame": "bounds", "fontSize": 15, "fontWeight": "bold", "offset": 24},
       "width": 138, "height": 114, "data": {"name": "D"},
       "encoding": {"x": {"field": "g", "type": "nominal", "scale": {"domain": ["0.125","5","10","25"], "paddingInner": 0, "paddingOuter": 0.3, "align": 0}, "axis": {"title": "Itaconate in medium (mM)", "ticks": false, "labelPadding": 7, "titlePadding": 4.5, "labelAngle": 0, "labelOffset": -6}}},
       "resolve": {"scale": {"xOffset": "independent"}},
       "layer": [
        {"transform": [{"flatten":["r"],"as":["v"]},{"aggregate":[{"op":"mean","field":"v","as":"m"}],"groupby":["g","s"]}],
         "mark": {"type": "bar", "clip": true, "width": {"band": 0.83}},
         "encoding": {"xOffset": {"field":"s","type":"nominal","scale":{"domain":["Mesa/Ita","Citra/Ita"],"paddingInner":0,"paddingOuter":0.25}},
          "y": {"field": "m", "type": "quantitative", "scale": {"domain": [0, 10], "nice": false, "zero": false}, "axis": {"values": [0,2,4,6,8,10], "format": "d", "title": "Ratio (% of Ita)", "titlePadding": 17}},
          "color": {"field": "s", "type": "nominal", "scale": {"domain": ["Mesa/Ita","Citra/Ita"], "range": ["#f6a065","#a4c7ef"]},
            "legend": {"title": null, "orient": "none", "legendX": 75.3, "legendY": -3.5, "symbolType": "M-1.06,-0.61H1.06V0.61H-1.06Z", "symbolSize": 121, "symbolStrokeColor": "#3b2b2b", "symbolStrokeWidth": 0.7, "labelOffset": 7, "rowPadding": 0, "padding": 0}}}},
        {"transform": [{"flatten":["r"],"as":["v"]},{"aggregate":[{"op":"mean","field":"v","as":"m"},{"op":"stdev","field":"v","as":"sd"}],"groupby":["g","s"]},{"calculate":"datum.m + (isValid(datum.sd) ? datum.sd : 0)","as":"hi"}],
         "mark": {"type": "rule", "clip": true},
         "encoding": {"xOffset": {"field":"s","type":"nominal","scale":{"domain":["Mesa/Ita","Citra/Ita"],"paddingInner":0,"paddingOuter":0.25}},
          "y": {"field": "m", "type": "quantitative", "scale": {"domain": [0, 10], "nice": false, "zero": false}, "axis": {"values": [0,2,4,6,8,10], "format": "d", "title": "Ratio (% of Ita)", "titlePadding": 17}},
          "y2": {"field": "hi"}}},
        {"transform": [{"flatten":["r"],"as":["v"]},{"aggregate":[{"op":"mean","field":"v","as":"m"},{"op":"stdev","field":"v","as":"sd"}],"groupby":["g","s"]},{"calculate":"datum.m + (isValid(datum.sd) ? datum.sd : 0)","as":"hi"}],
         "mark": {"type": "tick", "clip": true, "size": 4},
         "encoding": {"xOffset": {"field":"s","type":"nominal","scale":{"domain":["Mesa/Ita","Citra/Ita"],"paddingInner":0,"paddingOuter":0.25}},
          "y": {"field": "hi", "type": "quantitative", "scale": {"domain": [0, 10], "nice": false, "zero": false}, "axis": {"values": [0,2,4,6,8,10], "format": "d", "title": "Ratio (% of Ita)", "titlePadding": 17}}}},
        {"transform": [{"flatten":["r"],"as":["v"]},{"window":[{"op":"row_number","as":"ri"}],"groupby":["g","s"]},{"calculate":"datum.s + datum.ri","as":"k"}],
         "mark": {"type": "point", "clip": true},
         "encoding": {"xOffset": {"field":"k","type":"nominal","scale":{"domain":["Mesa/Ita1","Mesa/Ita2","Mesa/Ita3","gap","Citra/Ita1","Citra/Ita2","Citra/Ita3"],"paddingInner":0,"paddingOuter":1.5}},
          "y": {"field": "v", "type": "quantitative", "scale": {"domain": [0, 10], "nice": false, "zero": false}, "axis": {"values": [0,2,4,6,8,10], "format": "d", "title": "Ratio (% of Ita)", "titlePadding": 17}}}}
       ]},
      {"title": {"text": "e", "anchor": "start", "frame": "bounds", "fontSize": 15, "fontWeight": "bold", "offset": 24, "dx": 14},
       "width": 138, "height": 114, "data": {"name": "E"},
       "encoding": {"x": {"field": "g", "type": "nominal", "scale": {"domain": ["5","10","25"], "paddingInner": 0, "paddingOuter": 0}, "axis": {"title": "Mesaconate in medium (mM)", "ticks": false, "labelPadding": 7, "titlePadding": 4.5, "labelAngle": 0}}},
       "resolve": {"scale": {"xOffset": "independent"}},
       "layer": [
        {"transform": [{"flatten":["r"],"as":["v"]},{"aggregate":[{"op":"mean","field":"v","as":"m"}],"groupby":["g","s"]}],
         "mark": {"type": "bar", "clip": true, "width": {"band": 0.9}},
         "encoding": {"xOffset": {"field":"s","type":"nominal","scale":{"domain":["Ita/Mesa","Citra/Mesa"],"paddingInner":0,"paddingOuter":0.53}},
          "y": {"field": "m", "type": "quantitative", "scale": {"domain": [0, 0.8], "nice": false, "zero": false}, "axis": {"values": [0,0.2,0.4,0.6,0.8], "format": ".1f", "title": "Ratio (% of Mesa)", "titlePadding": 12}},
          "color": {"field": "s", "type": "nominal", "scale": {"domain": ["Ita/Mesa","Citra/Mesa"], "range": ["#c0575b","#a4c7ef"]},
            "legend": {"title": null, "orient": "none", "legendX": 75.5, "legendY": -7.8, "symbolType": "M-1.06,-0.61H1.06V0.61H-1.06Z", "symbolSize": 121, "symbolStrokeColor": "#3b2b2b", "symbolStrokeWidth": 0.7, "labelOffset": 8.5, "rowPadding": 0, "padding": 0}}}},
        {"transform": [{"flatten":["r"],"as":["v"]},{"aggregate":[{"op":"mean","field":"v","as":"m"},{"op":"stdev","field":"v","as":"sd"}],"groupby":["g","s"]},{"calculate":"datum.m + (isValid(datum.sd) ? datum.sd : 0)","as":"hi"}],
         "mark": {"type": "rule", "clip": true},
         "encoding": {"xOffset": {"field":"s","type":"nominal","scale":{"domain":["Ita/Mesa","Citra/Mesa"],"paddingInner":0,"paddingOuter":0.53}},
          "y": {"field": "m", "type": "quantitative", "scale": {"domain": [0, 0.8], "nice": false, "zero": false}, "axis": {"values": [0,0.2,0.4,0.6,0.8], "format": ".1f", "title": "Ratio (% of Mesa)", "titlePadding": 12}},
          "y2": {"field": "hi"}}},
        {"transform": [{"flatten":["r"],"as":["v"]},{"aggregate":[{"op":"mean","field":"v","as":"m"},{"op":"stdev","field":"v","as":"sd"}],"groupby":["g","s"]},{"calculate":"datum.m + (isValid(datum.sd) ? datum.sd : 0)","as":"hi"}],
         "mark": {"type": "tick", "clip": true, "size": 4},
         "encoding": {"xOffset": {"field":"s","type":"nominal","scale":{"domain":["Ita/Mesa","Citra/Mesa"],"paddingInner":0,"paddingOuter":0.53}},
          "y": {"field": "hi", "type": "quantitative", "scale": {"domain": [0, 0.8], "nice": false, "zero": false}, "axis": {"values": [0,0.2,0.4,0.6,0.8], "format": ".1f", "title": "Ratio (% of Mesa)", "titlePadding": 12}}}},
        {"transform": [{"flatten":["r"],"as":["v"]},{"window":[{"op":"row_number","as":"ri"}],"groupby":["g","s"]},{"calculate":"datum.s + datum.ri","as":"k"}],
         "mark": {"type": "point", "clip": true},
         "encoding": {"xOffset": {"field":"k","type":"nominal","scale":{"domain":["Ita/Mesa1","Ita/Mesa2","Ita/Mesa3","gap","Citra/Mesa1","Citra/Mesa2","Citra/Mesa3"],"paddingInner":0,"paddingOuter":2.62}},
          "y": {"field": "v", "type": "quantitative", "scale": {"domain": [0, 0.8], "nice": false, "zero": false}, "axis": {"values": [0,0.2,0.4,0.6,0.8], "format": ".1f", "title": "Ratio (% of Mesa)", "titlePadding": 12}}}}
       ]},
      {"title": {"text": "f", "anchor": "start", "frame": "bounds", "fontSize": 15, "fontWeight": "bold", "offset": 24, "dx": 22},
       "width": 145, "height": 114, "data": {"name": "F"},
       "encoding": {"x": {"field": "g", "type": "nominal", "scale": {"domain": ["5","10","25"], "paddingInner": 0, "paddingOuter": 0}, "axis": {"title": "Citraconate in medium (mM)", "ticks": false, "labelPadding": 7, "titlePadding": 4.5, "labelAngle": 0}}},
       "resolve": {"scale": {"xOffset": "independent"}},
       "layer": [
        {"transform": [{"flatten":["r"],"as":["v"]},{"aggregate":[{"op":"mean","field":"v","as":"m"}],"groupby":["g","s"]}],
         "mark": {"type": "bar", "clip": true, "width": {"band": 0.9}},
         "encoding": {"xOffset": {"field":"s","type":"nominal","scale":{"domain":["Ita/Citra","Mesa/Citra"],"paddingInner":0,"paddingOuter":0.61}},
          "y": {"field": "m", "type": "quantitative", "scale": {"domain": [0, 1], "nice": false, "zero": false}, "axis": {"values": [0,0.2,0.4,0.6,0.8,1], "format": ".1f", "title": "Ratio (% of Citra)", "titlePadding": 11}},
          "color": {"field": "s", "type": "nominal", "scale": {"domain": ["Ita/Citra","Mesa/Citra"], "range": ["#c0575b","#f6a065"]},
            "legend": {"title": null, "orient": "none", "legendX": 77.5, "legendY": -4.5, "symbolType": "M-1.06,-0.61H1.06V0.61H-1.06Z", "symbolSize": 121, "symbolStrokeColor": "#3b2b2b", "symbolStrokeWidth": 0.7, "labelOffset": 6.5, "rowPadding": 0, "padding": 0}}}},
        {"transform": [{"flatten":["r"],"as":["v"]},{"aggregate":[{"op":"mean","field":"v","as":"m"},{"op":"stdev","field":"v","as":"sd"}],"groupby":["g","s"]},{"calculate":"datum.m + (isValid(datum.sd) ? datum.sd : 0)","as":"hi"}],
         "mark": {"type": "rule", "clip": true},
         "encoding": {"xOffset": {"field":"s","type":"nominal","scale":{"domain":["Ita/Citra","Mesa/Citra"],"paddingInner":0,"paddingOuter":0.61}},
          "y": {"field": "m", "type": "quantitative", "scale": {"domain": [0, 1], "nice": false, "zero": false}, "axis": {"values": [0,0.2,0.4,0.6,0.8,1], "format": ".1f", "title": "Ratio (% of Citra)", "titlePadding": 11}},
          "y2": {"field": "hi"}}},
        {"transform": [{"flatten":["r"],"as":["v"]},{"aggregate":[{"op":"mean","field":"v","as":"m"},{"op":"stdev","field":"v","as":"sd"}],"groupby":["g","s"]},{"calculate":"datum.m + (isValid(datum.sd) ? datum.sd : 0)","as":"hi"}],
         "mark": {"type": "tick", "clip": true, "size": 4},
         "encoding": {"xOffset": {"field":"s","type":"nominal","scale":{"domain":["Ita/Citra","Mesa/Citra"],"paddingInner":0,"paddingOuter":0.61}},
          "y": {"field": "hi", "type": "quantitative", "scale": {"domain": [0, 1], "nice": false, "zero": false}, "axis": {"values": [0,0.2,0.4,0.6,0.8,1], "format": ".1f", "title": "Ratio (% of Citra)", "titlePadding": 11}}}},
        {"transform": [{"flatten":["r"],"as":["v"]},{"window":[{"op":"row_number","as":"ri"}],"groupby":["g","s"]},{"calculate":"datum.s + datum.ri","as":"k"}],
         "mark": {"type": "point", "clip": true},
         "encoding": {"xOffset": {"field":"k","type":"nominal","scale":{"domain":["Ita/Citra1","Ita/Citra2","Ita/Citra3","gap","Mesa/Citra1","Mesa/Citra2","Mesa/Citra3"],"paddingInner":0,"paddingOuter":2.94}},
          "y": {"field": "v", "type": "quantitative", "scale": {"domain": [0, 1], "nice": false, "zero": false}, "axis": {"values": [0,0.2,0.4,0.6,0.8,1], "format": ".1f", "title": "Ratio (% of Citra)", "titlePadding": 11}}}}
       ]}
     ]
    }
   ]
  }
 ]
},
{
 "spacing": 10.25,
 "align": "none",
 "resolve": {"scale": {"color": "independent", "x": "independent", "y": "independent", "xOffset": "independent"}, "legend": {"color": "independent"}, "axis": {"x": "independent", "y": "independent"}},
 "vconcat": [
  {"data": {"values": [{"t": "Extracellular concentrations"}]},
   "title": {"text": "Extracellular concentrations", "anchor": "start", "frame": "group", "fontSize": 12.5, "fontWeight": "normal", "offset": -1, "dx": -50},
   "width": 650, "height": 1,
   "mark": {"type": "rule", "color": "#111", "strokeWidth": 1.2},
   "encoding": {"x": {"datum": -0.0815, "type": "quantitative", "scale": {"domain": [0, 1], "nice": false, "zero": false}, "axis": null}, "x2": {"datum": 1},
     "y": {"datum": 0, "type": "quantitative", "scale": {"domain": [0, 1]}, "axis": null}}},
  {
   "spacing": 33,
   "resolve": {"scale": {"color": "independent", "x": "independent", "y": "independent", "xOffset": "independent"}, "legend": {"color": "independent"}, "axis": {"x": "independent", "y": "independent"}},
   "hconcat": [
    {
     "title": {"text": "g", "anchor": "start", "frame": "bounds", "fontSize": 15, "fontWeight": "bold", "offset": 6},
     "spacing": 8, "bounds": "flush",
     "resolve": {"scale": {"color": "independent", "x": "independent", "y": "independent", "xOffset": "independent"}, "legend": {"color": "independent"}, "axis": {"x": "independent", "y": "independent"}},
     "vconcat": [
      {"width": 170, "height": 51, "data": {"name": "G"},
       "encoding": {"x": {"field": "g", "type": "nominal", "scale": {"domain": ["0","0.125","5","10","25","25*"], "paddingInner": 0, "paddingOuter": 0}, "axis": null}},
       "resolve": {"scale": {"xOffset": "independent"}},
       "layer": [
        {"transform": [{"flatten":["r"],"as":["v"]},{"aggregate":[{"op":"mean","field":"v","as":"m"}],"groupby":["g","s"]},{"filter":"datum.m > 0.2"}],
         "mark": {"type": "bar", "clip": true, "width": {"band": 0.8}},
         "encoding": {"xOffset": {"field":"s","type":"nominal","scale":{"domain":["Ita","Mesa","Citra"],"paddingInner":0,"paddingOuter":0.28}},
          "y": {"field": "m", "type": "quantitative", "scale": {"domain": [0, 40], "nice": false, "zero": false}, "axis": {"values": [10,20,30,40], "format": "d", "title": null}},
          "color": {"field": "s", "type": "nominal", "scale": {"domain": ["Ita","Mesa","Citra"], "range": ["#c0575b","#f6a065","#a4c7ef"]},
            "legend": {"title": null, "orient": "none", "legendX": 10.4, "legendY": -6.5, "symbolType": "M-1.36,-0.61H1.36V0.61H-1.36Z", "symbolSize": 121, "symbolStrokeColor": "#3b2b2b", "symbolStrokeWidth": 0.7, "labelOffset": 7.3, "rowPadding": 0, "padding": 0}}}},
        {"transform": [{"flatten":["r"],"as":["v"]},{"aggregate":[{"op":"mean","field":"v","as":"m"},{"op":"stdev","field":"v","as":"sd"}],"groupby":["g","s"]},{"filter":"datum.m > 0.2"},{"calculate":"datum.m + (isValid(datum.sd) ? datum.sd : 0)","as":"hi"}],
         "mark": {"type": "rule", "clip": true},
         "encoding": {"xOffset": {"field":"s","type":"nominal","scale":{"domain":["Ita","Mesa","Citra"],"paddingInner":0,"paddingOuter":0.28}},
          "y": {"field": "m", "type": "quantitative", "scale": {"domain": [0, 40], "nice": false, "zero": false}, "axis": {"values": [10,20,30,40], "format": "d", "title": null}},
          "y2": {"field": "hi"}}},
        {"transform": [{"flatten":["r"],"as":["v"]},{"aggregate":[{"op":"mean","field":"v","as":"m"},{"op":"stdev","field":"v","as":"sd"}],"groupby":["g","s"]},{"filter":"datum.m > 0.2"},{"calculate":"datum.m + (isValid(datum.sd) ? datum.sd : 0)","as":"hi"}],
         "mark": {"type": "tick", "clip": true, "size": 4},
         "encoding": {"xOffset": {"field":"s","type":"nominal","scale":{"domain":["Ita","Mesa","Citra"],"paddingInner":0,"paddingOuter":0.28}},
          "y": {"field": "hi", "type": "quantitative", "scale": {"domain": [0, 40], "nice": false, "zero": false}, "axis": {"values": [10,20,30,40], "format": "d", "title": null}}}},
        {"transform": [{"flatten":["r"],"as":["v"]},{"joinaggregate":[{"op":"mean","field":"v","as":"m"}],"groupby":["g","s"]},{"filter":"datum.m > 0.2"},{"window":[{"op":"row_number","as":"ri"}],"groupby":["g","s"]},{"calculate":"datum.s + datum.ri","as":"k"}],
         "mark": {"type": "point", "clip": true},
         "encoding": {"xOffset": {"field":"k","type":"nominal","scale":{"domain":["Ita1","Ita2","Ita3","gap1","Mesa1","Mesa2","Mesa3","gap2","Citra1","Citra2","Citra3"],"paddingInner":0,"paddingOuter":1.62}},
          "y": {"field": "v", "type": "quantitative", "scale": {"domain": [0, 40], "nice": false, "zero": false}, "axis": {"values": [10,20,30,40], "format": "d", "title": null}}}}
       ]},
      {"width": 170, "height": 52, "data": {"name": "G"},
       "encoding": {"x": {"field": "g", "type": "nominal", "scale": {"domain": ["0","0.125","5","10","25","25*"], "paddingInner": 0, "paddingOuter": 0}, "axis": null}},
       "resolve": {"scale": {"xOffset": "independent"}},
       "layer": [
        {"transform": [{"flatten":["r"],"as":["v"]},{"aggregate":[{"op":"mean","field":"v","as":"m"}],"groupby":["g","s"]},{"filter":"datum.m > 0.008"}],
         "mark": {"type": "bar", "clip": true, "width": {"band": 0.8}},
         "encoding": {"xOffset": {"field":"s","type":"nominal","scale":{"domain":["Ita","Mesa","Citra"],"paddingInner":0,"paddingOuter":0.28}},
          "y": {"field": "m", "type": "quantitative", "scale": {"domain": [0, 0.2], "nice": false, "zero": false}, "axis": {"values": [0.05,0.1,0.15,0.2], "format": ".2f", "title": "Extracellular conc. (mM)", "titlePadding": 11}},
          "color": {"field": "s", "type": "nominal", "scale": {"domain": ["Ita","Mesa","Citra"], "range": ["#c0575b","#f6a065","#a4c7ef"]}, "legend": null}}},
        {"transform": [{"flatten":["r"],"as":["v"]},{"aggregate":[{"op":"mean","field":"v","as":"m"},{"op":"stdev","field":"v","as":"sd"}],"groupby":["g","s"]},{"filter":"datum.m > 0.008"},{"calculate":"datum.m + (isValid(datum.sd) ? datum.sd : 0)","as":"hi"}],
         "mark": {"type": "rule", "clip": true},
         "encoding": {"xOffset": {"field":"s","type":"nominal","scale":{"domain":["Ita","Mesa","Citra"],"paddingInner":0,"paddingOuter":0.28}},
          "y": {"field": "m", "type": "quantitative", "scale": {"domain": [0, 0.2], "nice": false, "zero": false}, "axis": {"values": [0.05,0.1,0.15,0.2], "format": ".2f", "title": "Extracellular conc. (mM)", "titlePadding": 11}},
          "y2": {"field": "hi"}}},
        {"transform": [{"flatten":["r"],"as":["v"]},{"aggregate":[{"op":"mean","field":"v","as":"m"},{"op":"stdev","field":"v","as":"sd"}],"groupby":["g","s"]},{"filter":"datum.m > 0.008"},{"calculate":"datum.m + (isValid(datum.sd) ? datum.sd : 0)","as":"hi"}],
         "mark": {"type": "tick", "clip": true, "size": 4},
         "encoding": {"xOffset": {"field":"s","type":"nominal","scale":{"domain":["Ita","Mesa","Citra"],"paddingInner":0,"paddingOuter":0.28}},
          "y": {"field": "hi", "type": "quantitative", "scale": {"domain": [0, 0.2], "nice": false, "zero": false}, "axis": {"values": [0.05,0.1,0.15,0.2], "format": ".2f", "title": "Extracellular conc. (mM)", "titlePadding": 11}}}},
        {"transform": [{"flatten":["r"],"as":["v"]},{"joinaggregate":[{"op":"mean","field":"v","as":"m"}],"groupby":["g","s"]},{"filter":"datum.m > 0.008"},{"window":[{"op":"row_number","as":"ri"}],"groupby":["g","s"]},{"calculate":"datum.s + datum.ri","as":"k"}],
         "mark": {"type": "point", "clip": true},
         "encoding": {"xOffset": {"field":"k","type":"nominal","scale":{"domain":["Ita1","Ita2","Ita3","gap1","Mesa1","Mesa2","Mesa3","gap2","Citra1","Citra2","Citra3"],"paddingInner":0,"paddingOuter":1.62}},
          "y": {"field": "v", "type": "quantitative", "scale": {"domain": [0, 0.2], "nice": false, "zero": false}, "axis": {"values": [0.05,0.1,0.15,0.2], "format": ".2f", "title": "Extracellular conc. (mM)", "titlePadding": 11}}}}
       ]},
      {"width": 170, "height": 58, "data": {"name": "G"},
       "resolve": {"scale": {"x": "independent"}, "axis": {"x": "independent"}},
       "layer": [
        {"encoding": {"x": {"field": "g", "type": "nominal", "scale": {"domain": ["0","0.125","5","10","25","25*"], "paddingInner": 0, "paddingOuter": 0}, "axis": {"orient": "bottom", "title": null, "ticks": false, "domain": false, "labelPadding": 2, "labelAngle": 0, "labelExpr": "replace(datum.label,'*','')"}}},
         "resolve": {"scale": {"xOffset": "independent"}},
         "layer": [
          {"transform": [{"flatten":["r"],"as":["v"]},{"aggregate":[{"op":"mean","field":"v","as":"m"}],"groupby":["g","s"]}],
           "mark": {"type": "bar", "clip": true, "width": {"band": 0.8}},
           "encoding": {"xOffset": {"field":"s","type":"nominal","scale":{"domain":["Ita","Mesa","Citra"],"paddingInner":0,"paddingOuter":0.28}},
            "y": {"field": "m", "type": "quantitative", "scale": {"domain": [-0.000923, 0.008], "nice": false, "zero": false}, "axis": {"values": [0,0.002,0.004,0.006,0.008], "format": ".3f", "title": null, "domainDash": [0,6,1000]}},
            "color": {"field": "s", "type": "nominal", "scale": {"domain": ["Ita","Mesa","Citra"], "range": ["#c0575b","#f6a065","#a4c7ef"]}, "legend": null}}},
          {"transform": [{"flatten":["r"],"as":["v"]},{"aggregate":[{"op":"mean","field":"v","as":"m"},{"op":"stdev","field":"v","as":"sd"}],"groupby":["g","s"]},{"calculate":"datum.m + (isValid(datum.sd) ? datum.sd : 0)","as":"hi"}],
           "mark": {"type": "rule", "clip": true},
           "encoding": {"xOffset": {"field":"s","type":"nominal","scale":{"domain":["Ita","Mesa","Citra"],"paddingInner":0,"paddingOuter":0.28}},
            "y": {"field": "m", "type": "quantitative", "scale": {"domain": [-0.000923, 0.008], "nice": false, "zero": false}, "axis": {"values": [0,0.002,0.004,0.006,0.008], "format": ".3f", "title": null, "domainDash": [0,6,1000]}},
            "y2": {"field": "hi"}}},
          {"transform": [{"flatten":["r"],"as":["v"]},{"aggregate":[{"op":"mean","field":"v","as":"m"},{"op":"stdev","field":"v","as":"sd"}],"groupby":["g","s"]},{"calculate":"datum.m + (isValid(datum.sd) ? datum.sd : 0)","as":"hi"}],
           "mark": {"type": "tick", "clip": true, "size": 4},
           "encoding": {"xOffset": {"field":"s","type":"nominal","scale":{"domain":["Ita","Mesa","Citra"],"paddingInner":0,"paddingOuter":0.28}},
            "y": {"field": "hi", "type": "quantitative", "scale": {"domain": [-0.000923, 0.008], "nice": false, "zero": false}, "axis": {"values": [0,0.002,0.004,0.006,0.008], "format": ".3f", "title": null, "domainDash": [0,6,1000]}}}},
          {"transform": [{"flatten":["r"],"as":["v"]},{"window":[{"op":"row_number","as":"ri"}],"groupby":["g","s"]},{"calculate":"datum.s + datum.ri","as":"k"}],
           "mark": {"type": "point", "clip": true},
           "encoding": {"xOffset": {"field":"k","type":"nominal","scale":{"domain":["Ita1","Ita2","Ita3","gap1","Mesa1","Mesa2","Mesa3","gap2","Citra1","Citra2","Citra3"],"paddingInner":0,"paddingOuter":1.62}},
            "y": {"field": "v", "type": "quantitative", "scale": {"domain": [-0.000923, 0.008], "nice": false, "zero": false}, "axis": {"values": [0,0.002,0.004,0.006,0.008], "format": ".3f", "title": null, "domainDash": [0,6,1000]}}}},
          {"mark": {"type": "rect", "fill": "white", "stroke": "#555", "strokeWidth": 0.7},
           "encoding": {"xOffset": {"field":"s","type":"nominal","scale":{"domain":["Ita","Mesa","Citra"],"paddingInner":0,"paddingOuter":0.28}},
            "y": {"datum": 0, "type": "quantitative", "scale": {"domain": [-0.000923, 0.008], "nice": false, "zero": false}, "axis": {"values": [0,0.002,0.004,0.006,0.008], "format": ".3f", "title": null, "domainDash": [0,6,1000]}},
            "y2": {"datum": -0.000923}}}
         ]},
        {"transform": [{"aggregate":[{"op":"count","as":"n"}]}],
         "mark": {"type": "rule", "color": "#444", "strokeWidth": 1},
         "encoding": {"y": {"datum": 0, "type": "quantitative", "scale": {"domain": [-0.000923, 0.008], "nice": false, "zero": false}, "axis": {"values": [0,0.002,0.004,0.006,0.008], "format": ".3f", "title": null, "domainDash": [0,6,1000]}}}},
        {"transform": [{"aggregate":[{"op":"count","as":"n"}]}],
         "mark": {"type": "rule", "opacity": 0},
         "encoding": {"x": {"datum": 0, "type": "quantitative", "scale": {"domain": [0, 6], "nice": false, "zero": false},
           "axis": {"orient": "bottom", "offset": 12, "values": [2.5, 5.5], "labelExpr": "datum.value < 5 ? '6 h' : '24 h'", "ticks": false, "grid": false, "labelPadding": 3, "labelFlush": false, "labelOverlap": false, "domainDash": [0,9.9,123.3,15.5,14.2,60], "title": "Itaconate in medium (mM)", "titlePadding": 1.5}}}}
       ]}
     ]
    },
    {
     "title": {"text": "h", "anchor": "start", "frame": "bounds", "fontSize": 15, "fontWeight": "bold", "offset": 6},
     "spacing": 8, "bounds": "flush",
     "resolve": {"scale": {"color": "independent", "x": "independent", "y": "independent", "xOffset": "independent"}, "legend": {"color": "independent"}, "axis": {"x": "independent", "y": "independent"}},
     "vconcat": [
      {"width": 170, "height": 52, "data": {"name": "H"},
       "encoding": {"x": {"field": "g", "type": "nominal", "scale": {"domain": ["0","5","10","25","25*"], "paddingInner": 0, "paddingOuter": 0}, "axis": null}},
       "resolve": {"scale": {"xOffset": "independent"}},
       "layer": [
        {"transform": [{"flatten":["r"],"as":["v"]},{"aggregate":[{"op":"mean","field":"v","as":"m"}],"groupby":["g","s"]},{"filter":"datum.m > 0.2"}],
         "mark": {"type": "bar", "clip": true, "width": {"band": 0.8}},
         "encoding": {"xOffset": {"field":"s","type":"nominal","scale":{"domain":["Ita","Mesa","Citra"],"paddingInner":0,"paddingOuter":0.28}},
          "y": {"field": "m", "type": "quantitative", "scale": {"domain": [0, 30], "nice": false, "zero": false}, "axis": {"values": [10,20,30], "format": "d", "title": null}},
          "color": {"field": "s", "type": "nominal", "scale": {"domain": ["Ita","Mesa","Citra"], "range": ["#c0575b","#f6a065","#a4c7ef"]}, "legend": null}}},
        {"transform": [{"flatten":["r"],"as":["v"]},{"aggregate":[{"op":"mean","field":"v","as":"m"},{"op":"stdev","field":"v","as":"sd"}],"groupby":["g","s"]},{"filter":"datum.m > 0.2"},{"calculate":"datum.m + (isValid(datum.sd) ? datum.sd : 0)","as":"hi"}],
         "mark": {"type": "rule", "clip": true},
         "encoding": {"xOffset": {"field":"s","type":"nominal","scale":{"domain":["Ita","Mesa","Citra"],"paddingInner":0,"paddingOuter":0.28}},
          "y": {"field": "m", "type": "quantitative", "scale": {"domain": [0, 30], "nice": false, "zero": false}, "axis": {"values": [10,20,30], "format": "d", "title": null}},
          "y2": {"field": "hi"}}},
        {"transform": [{"flatten":["r"],"as":["v"]},{"aggregate":[{"op":"mean","field":"v","as":"m"},{"op":"stdev","field":"v","as":"sd"}],"groupby":["g","s"]},{"filter":"datum.m > 0.2"},{"calculate":"datum.m + (isValid(datum.sd) ? datum.sd : 0)","as":"hi"}],
         "mark": {"type": "tick", "clip": true, "size": 4},
         "encoding": {"xOffset": {"field":"s","type":"nominal","scale":{"domain":["Ita","Mesa","Citra"],"paddingInner":0,"paddingOuter":0.28}},
          "y": {"field": "hi", "type": "quantitative", "scale": {"domain": [0, 30], "nice": false, "zero": false}, "axis": {"values": [10,20,30], "format": "d", "title": null}}}},
        {"transform": [{"flatten":["r"],"as":["v"]},{"joinaggregate":[{"op":"mean","field":"v","as":"m"}],"groupby":["g","s"]},{"filter":"datum.m > 0.2"},{"window":[{"op":"row_number","as":"ri"}],"groupby":["g","s"]},{"calculate":"datum.s + datum.ri","as":"k"}],
         "mark": {"type": "point", "clip": true},
         "encoding": {"xOffset": {"field":"k","type":"nominal","scale":{"domain":["Ita1","Ita2","Ita3","gap1","Mesa1","Mesa2","Mesa3","gap2","Citra1","Citra2","Citra3"],"paddingInner":0,"paddingOuter":1.62}},
          "y": {"field": "v", "type": "quantitative", "scale": {"domain": [0, 30], "nice": false, "zero": false}, "axis": {"values": [10,20,30], "format": "d", "title": null}}}}
       ]},
      {"width": 170, "height": 53, "data": {"name": "H"},
       "encoding": {"x": {"field": "g", "type": "nominal", "scale": {"domain": ["0","5","10","25","25*"], "paddingInner": 0, "paddingOuter": 0}, "axis": null}},
       "resolve": {"scale": {"xOffset": "independent"}},
       "layer": [
        {"transform": [{"flatten":["r"],"as":["v"]},{"aggregate":[{"op":"mean","field":"v","as":"m"}],"groupby":["g","s"]},{"filter":"datum.m > 0.006"}],
         "mark": {"type": "bar", "clip": true, "width": {"band": 0.8}},
         "encoding": {"xOffset": {"field":"s","type":"nominal","scale":{"domain":["Ita","Mesa","Citra"],"paddingInner":0,"paddingOuter":0.28}},
          "y": {"field": "m", "type": "quantitative", "scale": {"domain": [0, 0.2], "nice": false, "zero": false}, "axis": {"values": [0.05,0.1,0.15,0.2], "format": ".2f", "title": null}},
          "color": {"field": "s", "type": "nominal", "scale": {"domain": ["Ita","Mesa","Citra"], "range": ["#c0575b","#f6a065","#a4c7ef"]}, "legend": null}}},
        {"transform": [{"flatten":["r"],"as":["v"]},{"aggregate":[{"op":"mean","field":"v","as":"m"},{"op":"stdev","field":"v","as":"sd"}],"groupby":["g","s"]},{"filter":"datum.m > 0.006"},{"calculate":"datum.m + (isValid(datum.sd) ? datum.sd : 0)","as":"hi"}],
         "mark": {"type": "rule", "clip": true},
         "encoding": {"xOffset": {"field":"s","type":"nominal","scale":{"domain":["Ita","Mesa","Citra"],"paddingInner":0,"paddingOuter":0.28}},
          "y": {"field": "m", "type": "quantitative", "scale": {"domain": [0, 0.2], "nice": false, "zero": false}, "axis": {"values": [0.05,0.1,0.15,0.2], "format": ".2f", "title": null}},
          "y2": {"field": "hi"}}},
        {"transform": [{"flatten":["r"],"as":["v"]},{"aggregate":[{"op":"mean","field":"v","as":"m"},{"op":"stdev","field":"v","as":"sd"}],"groupby":["g","s"]},{"filter":"datum.m > 0.006"},{"calculate":"datum.m + (isValid(datum.sd) ? datum.sd : 0)","as":"hi"}],
         "mark": {"type": "tick", "clip": true, "size": 4},
         "encoding": {"xOffset": {"field":"s","type":"nominal","scale":{"domain":["Ita","Mesa","Citra"],"paddingInner":0,"paddingOuter":0.28}},
          "y": {"field": "hi", "type": "quantitative", "scale": {"domain": [0, 0.2], "nice": false, "zero": false}, "axis": {"values": [0.05,0.1,0.15,0.2], "format": ".2f", "title": null}}}},
        {"transform": [{"flatten":["r"],"as":["v"]},{"joinaggregate":[{"op":"mean","field":"v","as":"m"}],"groupby":["g","s"]},{"filter":"datum.m > 0.006"},{"window":[{"op":"row_number","as":"ri"}],"groupby":["g","s"]},{"calculate":"datum.s + datum.ri","as":"k"}],
         "mark": {"type": "point", "clip": true},
         "encoding": {"xOffset": {"field":"k","type":"nominal","scale":{"domain":["Ita1","Ita2","Ita3","gap1","Mesa1","Mesa2","Mesa3","gap2","Citra1","Citra2","Citra3"],"paddingInner":0,"paddingOuter":1.62}},
          "y": {"field": "v", "type": "quantitative", "scale": {"domain": [0, 0.2], "nice": false, "zero": false}, "axis": {"values": [0.05,0.1,0.15,0.2], "format": ".2f", "title": null}}}}
       ]},
      {"width": 170, "height": 56, "data": {"name": "H"},
       "resolve": {"scale": {"x": "independent"}, "axis": {"x": "independent"}},
       "layer": [
        {"encoding": {"x": {"field": "g", "type": "nominal", "scale": {"domain": ["0","5","10","25","25*"], "paddingInner": 0, "paddingOuter": 0}, "axis": {"orient": "bottom", "title": null, "ticks": false, "domain": false, "labelPadding": 2, "labelAngle": 0, "labelExpr": "replace(datum.label,'*','')"}}},
         "resolve": {"scale": {"xOffset": "independent"}},
         "layer": [
          {"transform": [{"flatten":["r"],"as":["v"]},{"aggregate":[{"op":"mean","field":"v","as":"m"}],"groupby":["g","s"]}],
           "mark": {"type": "bar", "clip": true, "width": {"band": 0.8}},
           "encoding": {"xOffset": {"field":"s","type":"nominal","scale":{"domain":["Ita","Mesa","Citra"],"paddingInner":0,"paddingOuter":0.28}},
            "y": {"field": "m", "type": "quantitative", "scale": {"domain": [-0.00072, 0.006], "nice": false, "zero": false}, "axis": {"values": [0,0.002,0.004,0.006], "format": ".3f", "title": null, "domainDash": [0,6,1000]}},
            "color": {"field": "s", "type": "nominal", "scale": {"domain": ["Ita","Mesa","Citra"], "range": ["#c0575b","#f6a065","#a4c7ef"]}, "legend": null}}},
          {"transform": [{"flatten":["r"],"as":["v"]},{"aggregate":[{"op":"mean","field":"v","as":"m"},{"op":"stdev","field":"v","as":"sd"}],"groupby":["g","s"]},{"calculate":"datum.m + (isValid(datum.sd) ? datum.sd : 0)","as":"hi"}],
           "mark": {"type": "rule", "clip": true},
           "encoding": {"xOffset": {"field":"s","type":"nominal","scale":{"domain":["Ita","Mesa","Citra"],"paddingInner":0,"paddingOuter":0.28}},
            "y": {"field": "m", "type": "quantitative", "scale": {"domain": [-0.00072, 0.006], "nice": false, "zero": false}, "axis": {"values": [0,0.002,0.004,0.006], "format": ".3f", "title": null, "domainDash": [0,6,1000]}},
            "y2": {"field": "hi"}}},
          {"transform": [{"flatten":["r"],"as":["v"]},{"aggregate":[{"op":"mean","field":"v","as":"m"},{"op":"stdev","field":"v","as":"sd"}],"groupby":["g","s"]},{"calculate":"datum.m + (isValid(datum.sd) ? datum.sd : 0)","as":"hi"}],
           "mark": {"type": "tick", "clip": true, "size": 4},
           "encoding": {"xOffset": {"field":"s","type":"nominal","scale":{"domain":["Ita","Mesa","Citra"],"paddingInner":0,"paddingOuter":0.28}},
            "y": {"field": "hi", "type": "quantitative", "scale": {"domain": [-0.00072, 0.006], "nice": false, "zero": false}, "axis": {"values": [0,0.002,0.004,0.006], "format": ".3f", "title": null, "domainDash": [0,6,1000]}}}},
          {"transform": [{"flatten":["r"],"as":["v"]},{"window":[{"op":"row_number","as":"ri"}],"groupby":["g","s"]},{"calculate":"datum.s + datum.ri","as":"k"}],
           "mark": {"type": "point", "clip": true},
           "encoding": {"xOffset": {"field":"k","type":"nominal","scale":{"domain":["Ita1","Ita2","Ita3","gap1","Mesa1","Mesa2","Mesa3","gap2","Citra1","Citra2","Citra3"],"paddingInner":0,"paddingOuter":1.62}},
            "y": {"field": "v", "type": "quantitative", "scale": {"domain": [-0.00072, 0.006], "nice": false, "zero": false}, "axis": {"values": [0,0.002,0.004,0.006], "format": ".3f", "title": null, "domainDash": [0,6,1000]}}}},
          {"mark": {"type": "rect", "fill": "white", "stroke": "#555", "strokeWidth": 0.7},
           "encoding": {"xOffset": {"field":"s","type":"nominal","scale":{"domain":["Ita","Mesa","Citra"],"paddingInner":0,"paddingOuter":0.28}},
            "y": {"datum": 0, "type": "quantitative", "scale": {"domain": [-0.00072, 0.006], "nice": false, "zero": false}, "axis": {"values": [0,0.002,0.004,0.006], "format": ".3f", "title": null, "domainDash": [0,6,1000]}},
            "y2": {"datum": -0.00072}}}
         ]},
        {"transform": [{"aggregate":[{"op":"count","as":"n"}]}],
         "mark": {"type": "rule", "color": "#444", "strokeWidth": 1},
         "encoding": {"y": {"datum": 0, "type": "quantitative", "scale": {"domain": [-0.00072, 0.006], "nice": false, "zero": false}, "axis": {"values": [0,0.002,0.004,0.006], "format": ".3f", "title": null, "domainDash": [0,6,1000]}}}},
        {"transform": [{"aggregate":[{"op":"count","as":"n"}]}],
         "mark": {"type": "rule", "opacity": 0},
         "encoding": {"x": {"datum": 0, "type": "quantitative", "scale": {"domain": [0, 5], "nice": false, "zero": false},
           "axis": {"orient": "bottom", "offset": 12, "values": [2, 4.5], "labelExpr": "datum.value < 4 ? '6 h' : '24 h'", "ticks": false, "grid": false, "labelPadding": 3, "labelFlush": false, "labelOverlap": false, "domainDash": [0,11.9,112.2,20.4,17,60], "title": "Mesaconate in medium (mM)", "titlePadding": 1.5}}}}
       ]}
     ]
    },
    {
     "title": {"text": "i", "anchor": "start", "frame": "bounds", "fontSize": 15, "fontWeight": "bold", "offset": 6, "dx": 6},
     "spacing": 8, "bounds": "flush",
     "resolve": {"scale": {"color": "independent", "x": "independent", "y": "independent", "xOffset": "independent"}, "legend": {"color": "independent"}, "axis": {"x": "independent", "y": "independent"}},
     "vconcat": [
      {"width": 177, "height": 83, "data": {"name": "I"},
       "encoding": {"x": {"field": "g", "type": "nominal", "scale": {"domain": ["0","5","10","25","25*"], "paddingInner": 0, "paddingOuter": 0}, "axis": null}},
       "resolve": {"scale": {"xOffset": "independent"}},
       "layer": [
        {"transform": [{"flatten":["r"],"as":["v"]},{"aggregate":[{"op":"mean","field":"v","as":"m"}],"groupby":["g","s"]},{"filter":"datum.m > 0.03"}],
         "mark": {"type": "bar", "clip": true, "width": {"band": 0.8}},
         "encoding": {"xOffset": {"field":"s","type":"nominal","scale":{"domain":["Ita","Mesa","Citra"],"paddingInner":0,"paddingOuter":0.28}},
          "y": {"field": "m", "type": "quantitative", "scale": {"domain": [5, 40], "nice": false, "zero": false}, "axis": {"values": [10,20,30,40], "format": "d", "title": null}},
          "color": {"field": "s", "type": "nominal", "scale": {"domain": ["Ita","Mesa","Citra"], "range": ["#c0575b","#f6a065","#a4c7ef"]}, "legend": null}}},
        {"transform": [{"flatten":["r"],"as":["v"]},{"aggregate":[{"op":"mean","field":"v","as":"m"},{"op":"stdev","field":"v","as":"sd"}],"groupby":["g","s"]},{"filter":"datum.m > 0.03"},{"calculate":"datum.m + (isValid(datum.sd) ? datum.sd : 0)","as":"hi"}],
         "mark": {"type": "rule", "clip": true},
         "encoding": {"xOffset": {"field":"s","type":"nominal","scale":{"domain":["Ita","Mesa","Citra"],"paddingInner":0,"paddingOuter":0.28}},
          "y": {"field": "m", "type": "quantitative", "scale": {"domain": [5, 40], "nice": false, "zero": false}, "axis": {"values": [10,20,30,40], "format": "d", "title": null}},
          "y2": {"field": "hi"}}},
        {"transform": [{"flatten":["r"],"as":["v"]},{"aggregate":[{"op":"mean","field":"v","as":"m"},{"op":"stdev","field":"v","as":"sd"}],"groupby":["g","s"]},{"filter":"datum.m > 0.03"},{"calculate":"datum.m + (isValid(datum.sd) ? datum.sd : 0)","as":"hi"}],
         "mark": {"type": "tick", "clip": true, "size": 4},
         "encoding": {"xOffset": {"field":"s","type":"nominal","scale":{"domain":["Ita","Mesa","Citra"],"paddingInner":0,"paddingOuter":0.28}},
          "y": {"field": "hi", "type": "quantitative", "scale": {"domain": [5, 40], "nice": false, "zero": false}, "axis": {"values": [10,20,30,40], "format": "d", "title": null}}}},
        {"transform": [{"flatten":["r"],"as":["v"]},{"joinaggregate":[{"op":"mean","field":"v","as":"m"}],"groupby":["g","s"]},{"filter":"datum.m > 0.03"},{"window":[{"op":"row_number","as":"ri"}],"groupby":["g","s"]},{"calculate":"datum.s + datum.ri","as":"k"}],
         "mark": {"type": "point", "clip": true},
         "encoding": {"xOffset": {"field":"k","type":"nominal","scale":{"domain":["Ita1","Ita2","Ita3","gap1","Mesa1","Mesa2","Mesa3","gap2","Citra1","Citra2","Citra3"],"paddingInner":0,"paddingOuter":1.62}},
          "y": {"field": "v", "type": "quantitative", "scale": {"domain": [5, 40], "nice": false, "zero": false}, "axis": {"values": [10,20,30,40], "format": "d", "title": null}}}}
       ]},
      {"width": 177, "height": 86, "data": {"name": "I"},
       "resolve": {"scale": {"x": "independent"}, "axis": {"x": "independent"}},
       "layer": [
        {"encoding": {"x": {"field": "g", "type": "nominal", "scale": {"domain": ["0","5","10","25","25*"], "paddingInner": 0, "paddingOuter": 0}, "axis": {"orient": "bottom", "title": null, "ticks": false, "domain": false, "labelPadding": 2, "labelAngle": 0, "labelExpr": "replace(datum.label,'*','')"}}},
         "resolve": {"scale": {"xOffset": "independent"}},
         "layer": [
          {"transform": [{"flatten":["r"],"as":["v"]},{"aggregate":[{"op":"mean","field":"v","as":"m"}],"groupby":["g","s"]}],
           "mark": {"type": "bar", "clip": true, "width": {"band": 0.8}},
           "encoding": {"xOffset": {"field":"s","type":"nominal","scale":{"domain":["Ita","Mesa","Citra"],"paddingInner":0,"paddingOuter":0.28}},
            "y": {"field": "m", "type": "quantitative", "scale": {"domain": [-0.00225, 0.03], "nice": false, "zero": false}, "axis": {"values": [0,0.01,0.02,0.03], "format": ".2f", "title": null, "domainDash": [0,6,1000]}},
            "color": {"field": "s", "type": "nominal", "scale": {"domain": ["Ita","Mesa","Citra"], "range": ["#c0575b","#f6a065","#a4c7ef"]}, "legend": null}}},
          {"transform": [{"flatten":["r"],"as":["v"]},{"aggregate":[{"op":"mean","field":"v","as":"m"},{"op":"stdev","field":"v","as":"sd"}],"groupby":["g","s"]},{"calculate":"datum.m + (isValid(datum.sd) ? datum.sd : 0)","as":"hi"}],
           "mark": {"type": "rule", "clip": true},
           "encoding": {"xOffset": {"field":"s","type":"nominal","scale":{"domain":["Ita","Mesa","Citra"],"paddingInner":0,"paddingOuter":0.28}},
            "y": {"field": "m", "type": "quantitative", "scale": {"domain": [-0.00225, 0.03], "nice": false, "zero": false}, "axis": {"values": [0,0.01,0.02,0.03], "format": ".2f", "title": null, "domainDash": [0,6,1000]}},
            "y2": {"field": "hi"}}},
          {"transform": [{"flatten":["r"],"as":["v"]},{"aggregate":[{"op":"mean","field":"v","as":"m"},{"op":"stdev","field":"v","as":"sd"}],"groupby":["g","s"]},{"calculate":"datum.m + (isValid(datum.sd) ? datum.sd : 0)","as":"hi"}],
           "mark": {"type": "tick", "clip": true, "size": 4},
           "encoding": {"xOffset": {"field":"s","type":"nominal","scale":{"domain":["Ita","Mesa","Citra"],"paddingInner":0,"paddingOuter":0.28}},
            "y": {"field": "hi", "type": "quantitative", "scale": {"domain": [-0.00225, 0.03], "nice": false, "zero": false}, "axis": {"values": [0,0.01,0.02,0.03], "format": ".2f", "title": null, "domainDash": [0,6,1000]}}}},
          {"transform": [{"flatten":["r"],"as":["v"]},{"window":[{"op":"row_number","as":"ri"}],"groupby":["g","s"]},{"calculate":"datum.s + datum.ri","as":"k"}],
           "mark": {"type": "point", "clip": true},
           "encoding": {"xOffset": {"field":"k","type":"nominal","scale":{"domain":["Ita1","Ita2","Ita3","gap1","Mesa1","Mesa2","Mesa3","gap2","Citra1","Citra2","Citra3"],"paddingInner":0,"paddingOuter":1.62}},
            "y": {"field": "v", "type": "quantitative", "scale": {"domain": [-0.00225, 0.03], "nice": false, "zero": false}, "axis": {"values": [0,0.01,0.02,0.03], "format": ".2f", "title": null, "domainDash": [0,6,1000]}}}},
          {"mark": {"type": "rect", "fill": "white", "stroke": "#555", "strokeWidth": 0.7},
           "encoding": {"xOffset": {"field":"s","type":"nominal","scale":{"domain":["Ita","Mesa","Citra"],"paddingInner":0,"paddingOuter":0.28}},
            "y": {"datum": 0, "type": "quantitative", "scale": {"domain": [-0.00225, 0.03], "nice": false, "zero": false}, "axis": {"values": [0,0.01,0.02,0.03], "format": ".2f", "title": null, "domainDash": [0,6,1000]}},
            "y2": {"datum": -0.00225}}}
         ]},
        {"transform": [{"aggregate":[{"op":"count","as":"n"}]}],
         "mark": {"type": "rule", "color": "#444", "strokeWidth": 1},
         "encoding": {"y": {"datum": 0, "type": "quantitative", "scale": {"domain": [-0.00225, 0.03], "nice": false, "zero": false}, "axis": {"values": [0,0.01,0.02,0.03], "format": ".2f", "title": null, "domainDash": [0,6,1000]}}}},
        {"transform": [{"aggregate":[{"op":"count","as":"n"}]}],
         "mark": {"type": "rule", "opacity": 0},
         "encoding": {"x": {"datum": 0, "type": "quantitative", "scale": {"domain": [0, 5], "nice": false, "zero": false},
           "axis": {"orient": "bottom", "offset": 12, "values": [2, 4.5], "labelExpr": "datum.value < 4 ? '6 h' : '24 h'", "ticks": false, "grid": false, "labelPadding": 3, "labelFlush": false, "labelOverlap": false, "domainDash": [0,12.4,118.6,19.5,17.7,60], "title": "Citraconate in medium (mM)", "titlePadding": 1.5}}}}
       ]}
     ]
    }
   ]
  }
 ]
}
]
}
